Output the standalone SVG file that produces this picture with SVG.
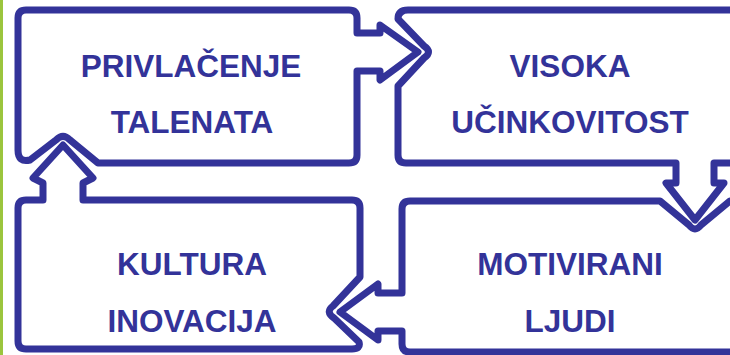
<svg xmlns="http://www.w3.org/2000/svg" width="730" height="355" viewBox="0 0 730 355">
<style>
.box{fill:#ffffff;stroke:#333399;stroke-width:7;stroke-linejoin:round;stroke-linecap:round}
.lbl{font-family:"Liberation Sans",Arial,sans-serif;font-weight:bold;font-size:31.5px;fill:#333399;text-anchor:middle}
</style>
<rect x="0" y="0" width="730" height="355" fill="#ffffff"/>
<rect x="0" y="0" width="3" height="355" fill="#9BC53D"/>
<g id="node-privlacenje">
<path class="box" d="M18,18 Q18,10 26,10 H349 Q357,10 357,18 V33 H380 V25 L418,52 L380,80 V71 H357 V155 Q357,163 349,163 H98 L70,140 Q63,133 56,140 L30,160 Q18,163 18,150 Z"/>
<text class="lbl" x="191" y="77">PRIVLAČENJE</text>
<text class="lbl" x="192" y="133">TALENATA</text>
</g>
<g id="node-visoka">
<path class="box" d="M408,10 H750 V163 H714 V183 H724 L695,220 L666,183 H676 V163 H406 Q398,163 398,155 V86 L424,58 Q433,52 424,46 L398,19 Q398,10 408,10 Z"/>
<text class="lbl" x="570" y="77">VISOKA</text>
<text class="lbl" x="570" y="133">UČINKOVITOST</text>
</g>
<g id="node-kultura">
<path class="box" d="M26,200 H43 V183 L33,178 L63,145 L93,178 L83,183 V200 H352 Q360,200 360,208 V277 L333,306 Q325,312 334,318 L359,342 Q361,349 352,349 H26 Q18,349 18,341 V208 Q18,200 26,200 Z"/>
<text class="lbl" x="192" y="275">KULTURA</text>
<text class="lbl" x="192" y="332">INOVACIJA</text>
</g>
<g id="node-motivirani">
<path class="box" d="M410,201 H660 L689,225 Q695,233 701,225 L730,201 H750 V352 H410 Q402,352 402,344 V331 H378 V340 L340,312 L378,284 V293 H402 V209 Q402,201 410,201 Z"/>
<text class="lbl" x="570" y="275">MOTIVIRANI</text>
<text class="lbl" x="570" y="332">LJUDI</text>
</g>
<g id="connectors"></g>
</svg>
